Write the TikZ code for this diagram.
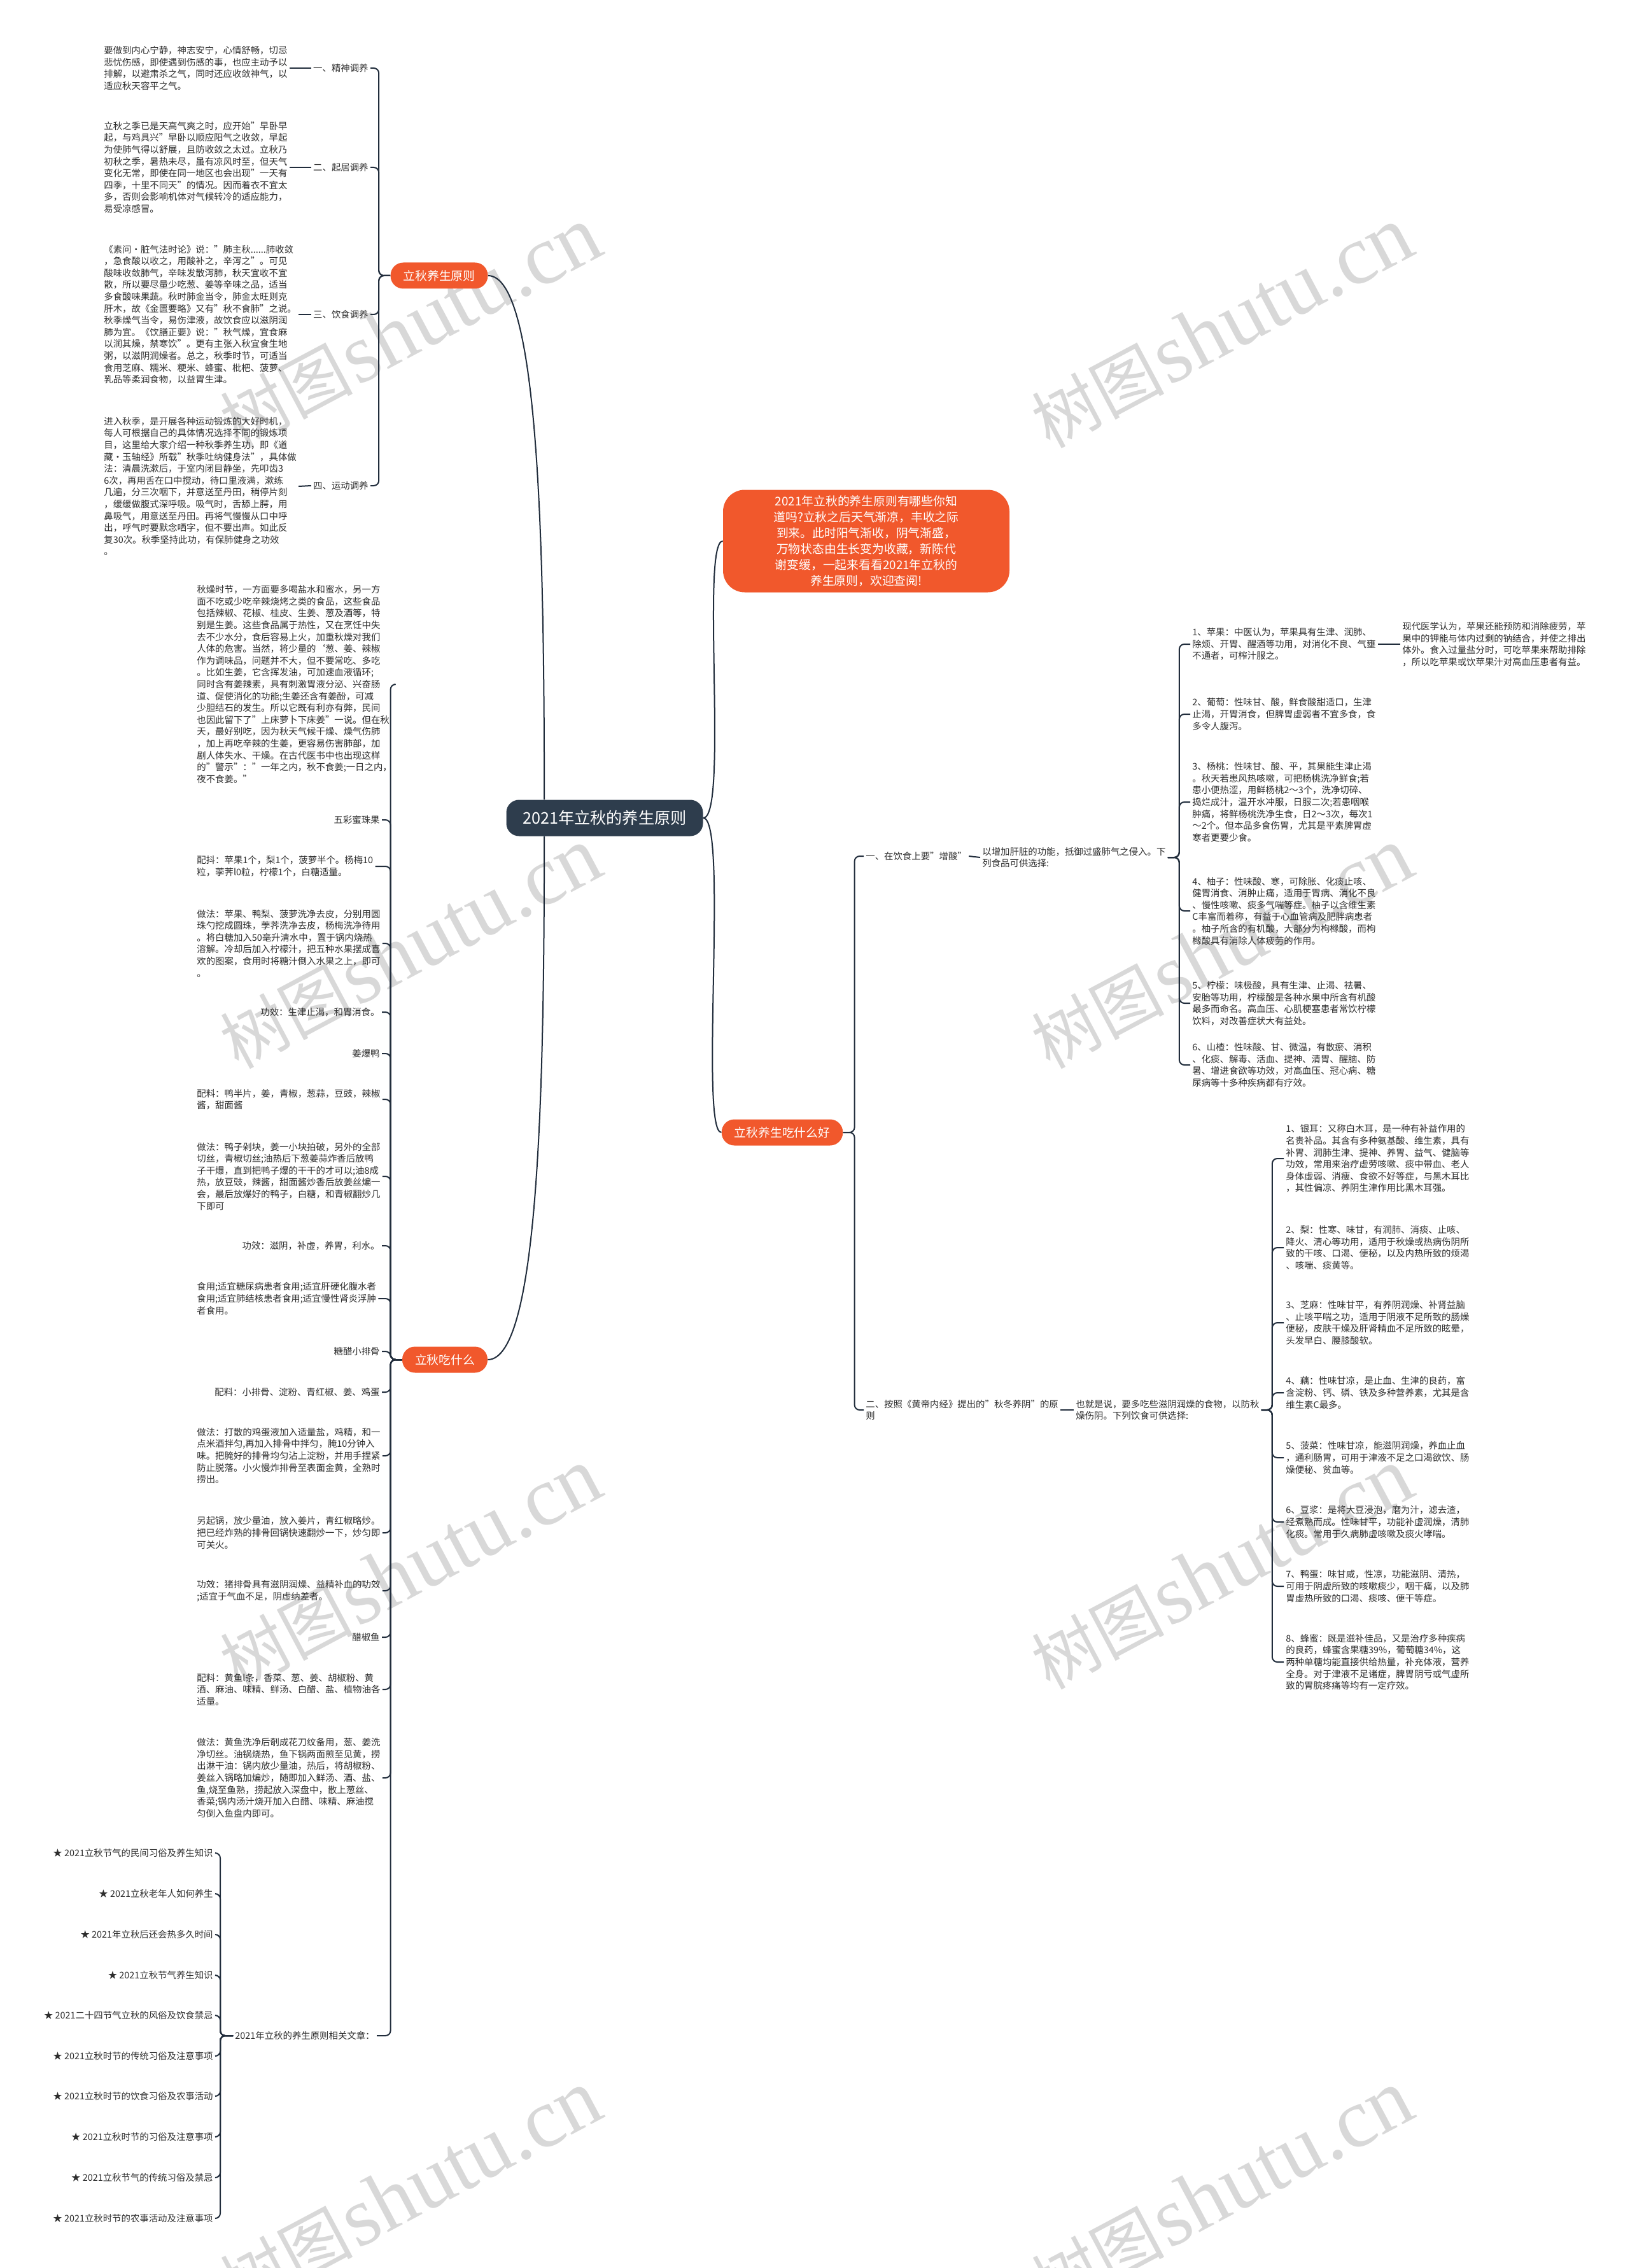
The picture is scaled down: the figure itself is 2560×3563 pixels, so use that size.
\documentclass[tikz,border=0pt]{standalone}
\usepackage{fontspec}
\setmainfont{Noto Sans CJK SC}
\newfontfamily\wmlatin{Liberation Serif}
\usetikzlibrary{calc}
\definecolor{redc}{RGB}{241,88,44}
\definecolor{darkc}{RGB}{46,61,77}
\definecolor{linec}{RGB}{33,45,60}
\definecolor{textc}{RGB}{45,45,45}
\definecolor{wmc}{RGB}{216,216,216}
\newcommand{\fsbody}{\fontsize{7.2pt}{9.3pt}\selectfont}
\newcommand{\wmtext}{{\fontsize{52pt}{52pt}\selectfont 树图} {\wmlatin\fontsize{66pt}{66pt}\selectfont shutu.cn}}
\begin{document}
\begin{tikzpicture}[x=0.5pt,y=-0.5pt,
  txt/.style={font=\fsbody, align=left, inner sep=1.5pt, text=textc},
  link/.style={draw=linec, line width=1pt},
  spine/.style={draw=linec, line width=1pt, rounded corners=4pt},
  rednode/.style={fill=redc, text=white, rounded corners=10pt, font=\fontsize{9.4pt}{12.5pt}\selectfont, inner xsep=10pt, inner ysep=0pt, minimum height=20.5pt},
  wm/.style={text=wmc, rotate=28, inner sep=0pt}
]
\fill[white] (0,0) rectangle (2560,3563);
\useasboundingbox (0,0) rectangle (2560,3563);

% watermarks
\node[wm] (w1) at (645,515) {\wmtext};
\node[wm] (w2) at (1920,515) {\wmtext};
\node[wm] (w3) at (645,1490) {\wmtext};
\node[wm] (w4) at (1920,1490) {\wmtext};
\node[wm] (w5) at (645,2465) {\wmtext};
\node[wm] (w6) at (1920,2465) {\wmtext};
\node[wm] (w7) at (645,3442) {\wmtext};
\node[wm] (w8) at (1920,3442) {\wmtext};

% center and main branches
\node[fill=darkc, text=white, rounded corners=10pt, font=\fontsize{12.6pt}{15pt}\selectfont, minimum width=154.5pt, minimum height=28.5pt, inner sep=0pt] (m) at (950,1285) {2021年立秋的养生原则};
\node[fill=redc, text=white, rounded corners=17pt, font=\fontsize{9.4pt}{12.5pt}\selectfont, align=center, minimum width=225pt, minimum height=80.5pt, inner sep=0pt] (intro) at (1361,850) {2021年立秋的养生原则有哪些你知\\道吗?立秋之后天气渐凉，丰收之际\\到来。此时阳气渐收，阴气渐盛，\\万物状态由生长变为收藏，新陈代\\谢变缓，一起来看看2021年立秋的\\养生原则，欢迎查阅!};
\node[rednode] (a) at (690,433) {立秋养生原则};
\node[rednode] (b) at (699,2136) {立秋吃什么};
\node[rednode] (c) at (1229,1779) {立秋养生吃什么好};

\draw[link] (a.east) .. controls +(80,0) and +(0,-400) .. ($(m.north west)+(60,0)$);
\draw[link] (b.east) .. controls +(80,0) and +(0,400) .. ($(m.south west)+(60,0)$);
\draw[link] (m.east) .. controls +(40,0) and +(-35,0) .. (intro.west);
\draw[link] (m.east) .. controls +(40,0) and +(-35,0) .. (c.west);

% ===== 立秋养生原则 =====
\node[txt, anchor=east] (l1) at (582,107) {一、精神调养};
\node[txt, anchor=east] (l2) at (582,263) {二、起居调养};
\node[txt, anchor=east] (l3) at (582,494) {三、饮食调养};
\node[txt, anchor=east] (l4) at (582,763) {四、运动调养};
\node[txt, anchor=west] (t1) at (160,107) {要做到内心宁静，神志安宁，心情舒畅，切忌\\悲忧伤感，即使遇到伤感的事，也应主动予以\\排解，以避肃杀之气，同时还应收敛神气，以\\适应秋天容平之气。};
\node[txt, anchor=west] (t2) at (160,263) {立秋之季已是天高气爽之时，应开始"早卧早\\起，与鸡具兴"早卧以顺应阳气之收敛，早起\\为使肺气得以舒展，且防收敛之太过。立秋乃\\初秋之季，暑热未尽，虽有凉风时至，但天气\\变化无常，即使在同一地区也会出现"一天有\\四季，十里不同天"的情况。因而着衣不宜太\\多，否则会影响机体对气候转冷的适应能力，\\易受凉感冒。};
\node[txt, anchor=west] (t3) at (160,494) {《素问·脏气法时论》说："肺主秋......肺收敛\\，急食酸以收之，用酸补之，辛泻之"。可见\\酸味收敛肺气，辛味发散泻肺，秋天宜收不宜\\散，所以要尽量少吃葱、姜等辛味之品，适当\\多食酸味果蔬。秋时肺金当令，肺金太旺则克\\肝木，故《金匮要略》又有"秋不食肺"之说。\\秋季燥气当令，易伤津液，故饮食应以滋阴润\\肺为宜。《饮膳正要》说："秋气燥，宜食麻\\以润其燥，禁寒饮"。更有主张入秋宜食生地\\粥，以滋阴润燥者。总之，秋季时节，可适当\\食用芝麻、糯米、粳米、蜂蜜、枇杷、菠萝、\\乳品等柔润食物，以益胃生津。};
\node[txt, anchor=west] (t4) at (160,764) {进入秋季，是开展各种运动锻炼的大好时机，\\每人可根据自己的具体情况选择不同的锻炼项\\目，这里给大家介绍一种秋季养生功，即《道\\藏·玉轴经》所载"秋季吐纳健身法"，具体做\\法：清晨洗漱后，于室内闭目静坐，先叩齿3\\6次，再用舌在口中搅动，待口里液满，漱练\\几遍，分三次咽下，并意送至丹田，稍停片刻\\，缓缓做腹式深呼吸。吸气时，舌舔上腭，用\\鼻吸气，用意送至丹田。再将气慢慢从口中呼\\出，呼气时要默念哂字，但不要出声。如此反\\复30次。秋季坚持此功，有保肺健身之功效\\。};
\foreach \i in {1,2,3,4} {
  \draw[link] (t\i.east) -- (l\i.west);
  \draw[spine] (a.west) -- ++(-18,0) |- (l\i.east);
}

% ===== 立秋吃什么 =====
\node[txt, anchor=west] (c1) at (306,1075) {秋燥时节，一方面要多喝盐水和蜜水，另一方\\面不吃或少吃辛辣烧烤之类的食品，这些食品\\包括辣椒、花椒、桂皮、生姜、葱及酒等，特\\别是生姜。这些食品属于热性，又在烹饪中失\\去不少水分，食后容易上火，加重秋燥对我们\\人体的危害。当然，将少量的`葱、姜、辣椒\\作为调味品，问题并不大，但不要常吃、多吃\\。比如生姜，它含挥发油，可加速血液循环;\\同时含有姜辣素，具有刺激胃液分泌、兴奋肠\\道、促使消化的功能;生姜还含有姜酚，可减\\少胆结石的发生。所以它既有利亦有弊，民间\\也因此留下了"上床萝卜下床姜"一说。但在秋\\天，最好别吃，因为秋天气候干燥、燥气伤肺\\，加上再吃辛辣的生姜，更容易伤害肺部，加\\剧人体失水、干燥。在古代医书中也出现这样\\的"警示"："一年之内，秋不食姜;一日之内，\\夜不食姜。"};
\node[txt, anchor=east] (c2) at (600,1288) {五彩蜜珠果};
\node[txt, anchor=west] (c3) at (306,1361) {配抖：苹果1个，梨1个，菠萝半个。杨梅10\\粒，荸荠l0粒，柠檬1个，白糖适量。};
\node[txt, anchor=west] (c4) at (306,1482) {做法：苹果、鸭梨、菠萝洗净去皮，分别用圆\\珠勺挖成圆珠，荸荠洗净去皮，杨梅洗净待用\\。将白糖加入50毫升清水中，置于锅内烧热\\溶解。冷却后加入柠檬汁，把五种水果摆成喜\\欢的图案，食用时将糖汁倒入水果之上，即可\\。};
\node[txt, anchor=east] (c5) at (600,1590) {功效：生津止渴，和胃消食。};
\node[txt, anchor=east] (c6) at (600,1655) {姜爆鸭};
\node[txt, anchor=west] (c7) at (306,1727) {配料：鸭半片，姜，青椒，葱蒜，豆豉，辣椒\\酱，甜面酱};
\node[txt, anchor=west] (c8) at (306,1848) {做法：鸭子剁块，姜一小块拍破，另外的全部\\切丝，青椒切丝;油热后下葱姜蒜炸香后放鸭\\子干爆，直到把鸭子爆的干干的才可以;油8成\\热，放豆豉，辣酱，甜面酱炒香后放姜丝煸一\\会，最后放爆好的鸭子，白糖，和青椒翻炒几\\下即可};
\node[txt, anchor=east] (c9) at (600,1957) {功效：滋阴，补虚，养胃，利水。};
\node[txt, anchor=west] (c10) at (306,2040) {食用;适宜糖尿病患者食用;适宜肝硬化腹水者\\食用;适宜肺结核患者食用;适宜慢性肾炎浮肿\\者食用。};
\node[txt, anchor=east] (c11) at (600,2123) {糖醋小排骨};
\node[txt, anchor=east] (c12) at (600,2187) {配料：小排骨、淀粉、青红椒、姜、鸡蛋};
\node[txt, anchor=west] (c13) at (306,2287) {做法：打散的鸡蛋液加入适量盐，鸡精，和一\\点米酒拌匀,再加入排骨中拌匀，腌10分钟入\\味。把腌好的排骨均匀沾上淀粉，并用手捏紧\\防止脱落。小火慢炸排骨至表面金黄，全熟时\\捞出。};
\node[txt, anchor=west] (c14) at (306,2408) {另起锅，放少量油，放入姜片，青红椒略炒。\\把已经炸熟的排骨回锅快速翻炒一下，炒匀即\\可关火。};
\node[txt, anchor=west] (c15) at (306,2499) {功效：猪排骨具有滋阴润燥、益精补血的功效\\;适宜于气血不足，阴虚纳差者。};
\node[txt, anchor=east] (c16) at (600,2572) {醋椒鱼};
\node[txt, anchor=west] (c17) at (306,2654) {配料：黄鱼l条，香菜、葱、姜、胡椒粉、黄\\酒、麻油、味精、鲜汤、白醋、盐、植物油各\\适量。};
\node[txt, anchor=west] (c18) at (306,2793) {做法：黄鱼洗净后剞成花刀纹备用，葱、姜洗\\净切丝。油锅烧热，鱼下锅两面煎至见黄，捞\\出淋干油：锅内放少量油，热后，将胡椒粉、\\姜丝入锅略加煸炒，随即加入鲜汤、酒、盐、\\鱼,烧至鱼熟，捞起放入深盘中，散上葱丝、\\香菜;锅内汤汁烧开加入白醋、味精、麻油搅\\匀倒入鱼盘内即可。};
\node[txt, anchor=east] (c19) at (592,3198) {2021年立秋的养生原则相关文章：};
\foreach \i in {1,...,19} {
  \draw[spine] (b.west) -- ++(-18,0) |- (c\i.east);
}

% related articles
\node[txt, anchor=east] (s1) at (338,2911) {★ 2021立秋节气的民间习俗及养生知识};
\node[txt, anchor=east] (s2) at (338,2975) {★ 2021立秋老年人如何养生};
\node[txt, anchor=east] (s3) at (338,3039) {★ 2021年立秋后还会热多久时间};
\node[txt, anchor=east] (s4) at (338,3103) {★ 2021立秋节气养生知识};
\node[txt, anchor=east] (s5) at (338,3166) {★ 2021二十四节气立秋的风俗及饮食禁忌};
\node[txt, anchor=east] (s6) at (338,3230) {★ 2021立秋时节的传统习俗及注意事项};
\node[txt, anchor=east] (s7) at (338,3293) {★ 2021立秋时节的饮食习俗及农事活动};
\node[txt, anchor=east] (s8) at (338,3357) {★ 2021立秋时节的习俗及注意事项};
\node[txt, anchor=east] (s9) at (338,3421) {★ 2021立秋节气的传统习俗及禁忌};
\node[txt, anchor=east] (s10) at (338,3485) {★ 2021立秋时节的农事活动及注意事项};
\foreach \i in {1,...,10} {
  \draw[spine] (c19.west) -- ++(-20,0) |- (s\i.east);
}

% ===== 立秋养生吃什么好 =====
\node[txt, anchor=west] (d1) at (1357,1345) {一、在饮食上要"增酸"};
\node[txt, anchor=west] (d2) at (1357,2215) {二、按照《黄帝内经》提出的"秋冬养阴"的原\\则};
\draw[spine] (c.east) -- ++(18,0) |- (d1.west);
\draw[spine] (c.east) -- ++(18,0) |- (d2.west);
\node[txt, anchor=west] (e1) at (1540,1347) {以增加肝脏的功能，抵御过盛肺气之侵入。下\\列食品可供选择:};
\node[txt, anchor=west] (e2) at (1687,2215) {也就是说，要多吃些滋阴润燥的食物，以防秋\\燥伤阴。下列饮食可供选择:};
\draw[link] (d1.east) -- (e1.west);
\draw[link] (d2.east) -- (e2.west);

\node[txt, anchor=west] (f1) at (1870,1012) {1、苹果：中医认为，苹果具有生津、润肺、\\除烦、开胃、醒酒等功用，对消化不良、气壅\\不通者，可榨汁服之。};
\node[txt, anchor=west] (f2) at (1870,1122) {2、葡萄：性味甘、酸，鲜食酸甜适口，生津\\止渴，开胃消食，但脾胃虚弱者不宜多食，食\\多令人腹泻。};
\node[txt, anchor=west] (f3) at (1870,1260) {3、杨桃：性味甘、酸、平，其果能生津止渴\\。秋天若患风热咳嗽，可把杨桃洗净鲜食;若\\患小便热涩，用鲜杨桃2～3个，洗净切碎、\\捣烂成汁，温开水冲服，日服二次;若患咽喉\\肿痛，将鲜杨桃洗净生食，日2～3次，每次1\\～2个。但本品多食伤胃，尤其是平素脾胃虚\\寒者更要少食。};
\node[txt, anchor=west] (f4) at (1870,1431) {4、柚子：性味酸、寒，可除胀、化痰止咳、\\健胃消食、消肿止痛，适用于胃病、消化不良\\、慢性咳嗽、痰多气喘等症。柚子以含维生素\\C丰富而着称，有益于心血管病及肥胖病患者\\。柚子所含的有机酸，大部分为枸橼酸，而枸\\橼酸具有消除人体疲劳的作用。};
\node[txt, anchor=west] (f5) at (1870,1576) {5、柠檬：味极酸，具有生津、止渴、祛暑、\\安胎等功用，柠檬酸是各种水果中所含有机酸\\最多而命名。高血压、心肌梗塞患者常饮柠檬\\饮料，对改善症状大有益处。};
\node[txt, anchor=west] (f6) at (1870,1673) {6、山楂：性味酸、甘、微温，有散瘀、消积\\、化痰、解毒、活血、提神、清胃、醒脑、防\\暑、增进食欲等功效，对高血压、冠心病、糖\\尿病等十多种疾病都有疗效。};
\foreach \i in {1,...,6} {
  \draw[spine] (e1.east) -- ++(18,0) |- (f\i.west);
}
\node[txt, anchor=west] (f1b) at (2200,1012) {现代医学认为，苹果还能预防和消除疲劳，苹\\果中的钾能与体内过剩的钠结合，并使之排出\\体外。食入过量盐分时，可吃苹果来帮助排除\\，所以吃苹果或饮苹果汁对高血压患者有益。};
\draw[link] (f1.east) -- (f1b.west);

\node[txt, anchor=west] (g1) at (2017,1820) {1、银耳：又称白木耳，是一种有补益作用的\\名贵补品。其含有多种氨基酸、维生素，具有\\补胃、润肺生津、提神、养胃、益气、健脑等\\功效，常用来治疗虚劳咳嗽、痰中带血、老人\\身体虚弱、消瘦、食欲不好等症，与黑木耳比\\，其性偏凉、养阴生津作用比黑木耳强。};
\node[txt, anchor=west] (g2) at (2017,1960) {2、梨：性寒、味甘，有润肺、消痰、止咳、\\降火、清心等功用，适用于秋燥或热病伤阴所\\致的干咳、口渴、便秘，以及内热所致的烦渴\\、咳喘、痰黄等。};
\node[txt, anchor=west] (g3) at (2017,2078) {3、芝麻：性味甘平，有养阴润燥、补肾益脑\\、止咳平喘之功，适用于阴液不足所致的肠燥\\便秘，皮肤干燥及肝肾精血不足所致的眩晕，\\头发早白、腰膝酸软。};
\node[txt, anchor=west] (g4) at (2017,2188) {4、藕：性味甘凉，是止血、生津的良药，富\\含淀粉、钙、磷、铁及多种营养素，尤其是含\\维生素C最多。};
\node[txt, anchor=west] (g5) at (2017,2290) {5、菠菜：性味甘凉，能滋阴润燥，养血止血\\，通利肠胃，可用于津液不足之口渴欲饮、肠\\燥便秘、贫血等。};
\node[txt, anchor=west] (g6) at (2017,2391) {6、豆浆：是将大豆浸泡，磨为汁，滤去渣，\\经煮熟而成。性味甘平，功能补虚润燥，清肺\\化痰。常用于久病肺虚咳嗽及痰火哮喘。};
\node[txt, anchor=west] (g7) at (2017,2492) {7、鸭蛋：味甘咸，性凉，功能滋阴、清热，\\可用于阴虚所致的咳嗽痰少，咽干痛，以及肺\\胃虚热所致的口渴、痰咳、便干等症。};
\node[txt, anchor=west] (g8) at (2017,2611) {8、蜂蜜：既是滋补佳品，又是治疗多种疾病\\的良药，蜂蜜含果糖39\%，葡萄糖34\%，这\\两种单糖均能直接供给热量，补充体液，营养\\全身。对于津液不足诸症，脾胃阴亏或气虚所\\致的胃脘疼痛等均有一定疗效。};
\foreach \i in {1,...,8} {
  \draw[spine] (e2.east) -- ++(17,0) |- (g\i.west);
}
\end{tikzpicture}
\end{document}
